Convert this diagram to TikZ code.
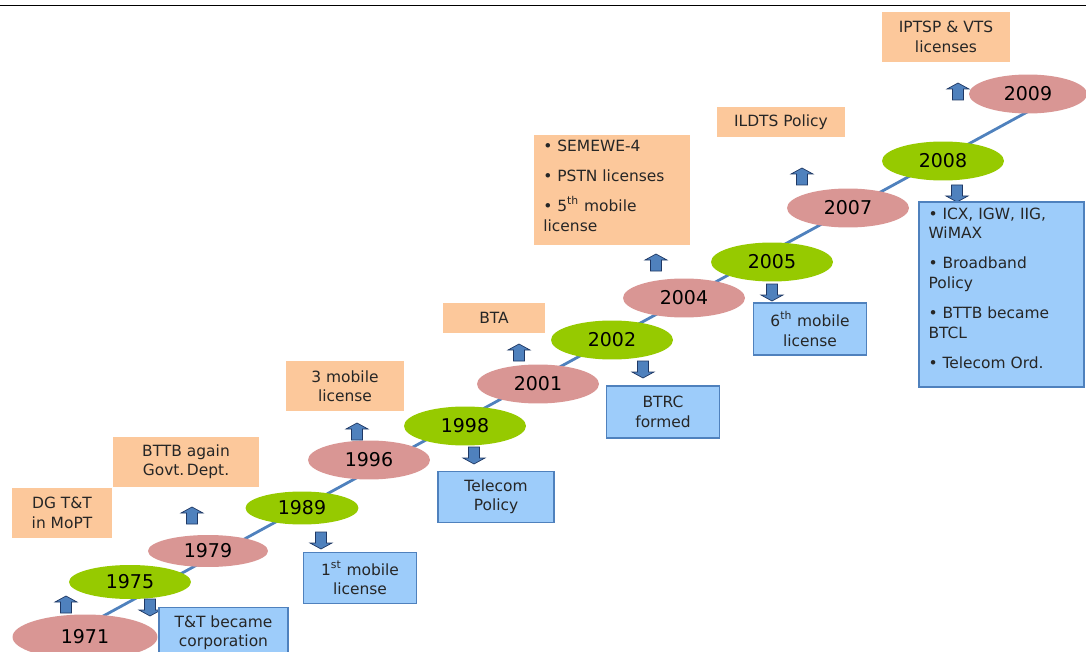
\documentclass[tikz,border=0pt]{standalone}
\usepackage{fontspec}
\setmainfont{DejaVu Sans}
\usepackage{tikz}
\usetikzlibrary{shapes.geometric}
\pgfdeclarelayer{background}
\pgfsetlayers{background,main}
\definecolor{yrpink}{HTML}{D99694}
\definecolor{yrgreen}{HTML}{96CA00}
\definecolor{evorange}{HTML}{FCC89B}
\definecolor{evblue}{HTML}{9DCCFA}
\definecolor{evborder}{HTML}{4F81BD}
\definecolor{arrdraw}{HTML}{1F3864}
\tikzstyle{year}    = [ellipse, minimum width=2.44cm, minimum height=0.78cm, inner sep=0pt, text=black, font=\fontsize{10.8}{12}\selectfont]
\tikzstyle{pinkyr}  = [year, fill=yrpink]
\tikzstyle{greenyr} = [year, fill=yrgreen]
\tikzstyle{govbox}  = [rectangle, fill=evorange, align=center, inner sep=0pt, text=black!85, font=\fontsize{8.8}{11}\selectfont]
\tikzstyle{regbox}  = [rectangle, fill=evblue, draw=evborder, line width=0.6pt, align=center, inner sep=0pt, text=black!85, font=\fontsize{8.8}{11}\selectfont]
\tikzstyle{listbox} = [align=left, inner xsep=0.18cm, inner ysep=0pt, anchor=north west]
\tikzstyle{tline}   = [evborder, line width=1.6pt]
\tikzset{blockup/.pic={\draw[arrdraw, fill=evborder, line width=0.4pt] (0,-9) -- (11,-3) -- (5.5,-3) -- (5.5,8) -- (-5.5,8) -- (-5.5,-3) -- (-11,-3) -- cycle;}}

\begin{document}
\begin{tikzpicture}[x=0.02cm, y=-0.02cm]
      \useasboundingbox (0,0) rectangle (1086,652);
      \coordinate (tl) at (0,5.5);
      \coordinate (tr) at (1086,5.5);
      \draw [black, line width=0.9pt] (tl) -- (tr);

      \node (y1971) [pinkyr, minimum width=2.9cm, minimum height=0.9cm] at (85,637) {1971};
      \node (y1975) [greenyr, minimum height=0.68cm] at (130,582) {1975};
      \node (y1979) [pinkyr, minimum width=2.4cm, minimum height=0.64cm] at (208,551) {1979};
      \node (y1989) [greenyr, minimum width=2.26cm, minimum height=0.66cm] at (302,508) {1989};
      \node (y1996) [pinkyr] at (369,460) {1996};
      \node (y1998) [greenyr] at (465,426) {1998};
      \node (y2001) [pinkyr] at (538,384) {2001};
      \node (y2002) [greenyr] at (612,340) {2002};
      \node (y2004) [pinkyr] at (684,298) {2004};
      \node (y2005) [greenyr] at (772,262) {2005};
      \node (y2007) [pinkyr] at (848,208) {2007};
      \node (y2008) [greenyr] at (943,161) {2008};
      \node (y2009) [pinkyr, minimum width=2.36cm] at (1028,94) {2009};

      \coordinate (lbeg) at (85,626);
      \coordinate (lend) at (1040,105);
      \begin{pgfonlayer}{background}
        \draw [tline] (lbeg) -- (lend);
      \end{pgfonlayer}

      \pic at (66,605) {blockup};
      \pic [rotate=180] at (150,607) {blockup};
      \pic at (192,516) {blockup};
      \pic [rotate=180] at (321,540) {blockup};
      \pic at (357,432) {blockup};
      \pic [rotate=180] at (474,455) {blockup};
      \pic at (519,353) {blockup};
      \pic [rotate=180] at (643,369) {blockup};
      \pic at (656,263) {blockup};
      \pic [rotate=180] at (772,292) {blockup};
      \pic at (802,177) {blockup};
      \pic [rotate=180] at (957,193) {blockup};
      \pic at (958,92) {blockup};

      \node (dgtt)   [govbox, minimum width=2.02cm, minimum height=1.02cm] at (62,513) {DG T\&T\\in MoPT};
      \node (bttb)   [govbox, minimum width=2.92cm, minimum height=1.0cm] at (186,462) {BTTB again\\Govt.\,Dept.};
      \node (ttcorp) [regbox, minimum width=2.58cm, minimum height=1.0cm, anchor=north] at (223.5,607) {T\&T became\\corporation};
      \node (mob1)   [regbox, minimum width=2.26cm, minimum height=1.02cm] at (360,578) {1\textsuperscript{st} mobile\\license};
      \node (mob3)   [govbox, minimum width=2.38cm, minimum height=1.0cm] at (345,386) {3 mobile\\license};
      \node (tpol)   [regbox, minimum width=2.32cm, minimum height=1.02cm] at (496,497) {Telecom\\Policy};
      \node (bta)    [govbox, minimum width=2.06cm, minimum height=0.6cm] at (494,318) {BTA};
      \node (btrc)   [regbox, minimum width=2.26cm, minimum height=1.04cm] at (663,412) {BTRC\\formed};
      \node (semewe) [govbox, minimum width=3.14cm, minimum height=2.22cm] at (612,190) {};
      \node [govbox, listbox, fill=none, font=\fontsize{8.8}{11.3}\selectfont] at (534,140) {\textbullet\ SEMEWE-4\\[5.6pt]\textbullet\ PSTN licenses\\[5.6pt]\textbullet\ 5\textsuperscript{th} mobile\\license};
      \node (mob6)   [regbox, minimum width=2.26cm, minimum height=1.04cm] at (810,329) {6\textsuperscript{th} mobile\\license};
      \node (ildts)  [govbox, minimum width=2.58cm, minimum height=0.6cm] at (781,122) {ILDTS Policy};
      \node (iptsp)  [govbox, minimum width=2.56cm, minimum height=1.0cm] at (946,37) {IPTSP \& VTS\\licenses};
      \node (bigreg) [regbox, minimum width=3.3cm, minimum height=3.7cm] at (1001.5,294.5) {};
      \node [regbox, listbox, draw=none, fill=none, font=\fontsize{8.8}{11.3}\selectfont] at (919,207) {\textbullet\ ICX, IGW, IIG,\\WiMAX\\[5.8pt]\textbullet\ Broadband\\Policy\\[5.8pt]\textbullet\ BTTB became\\BTCL\\[5.8pt]\textbullet\ Telecom Ord.};
\end{tikzpicture}
\end{document}
